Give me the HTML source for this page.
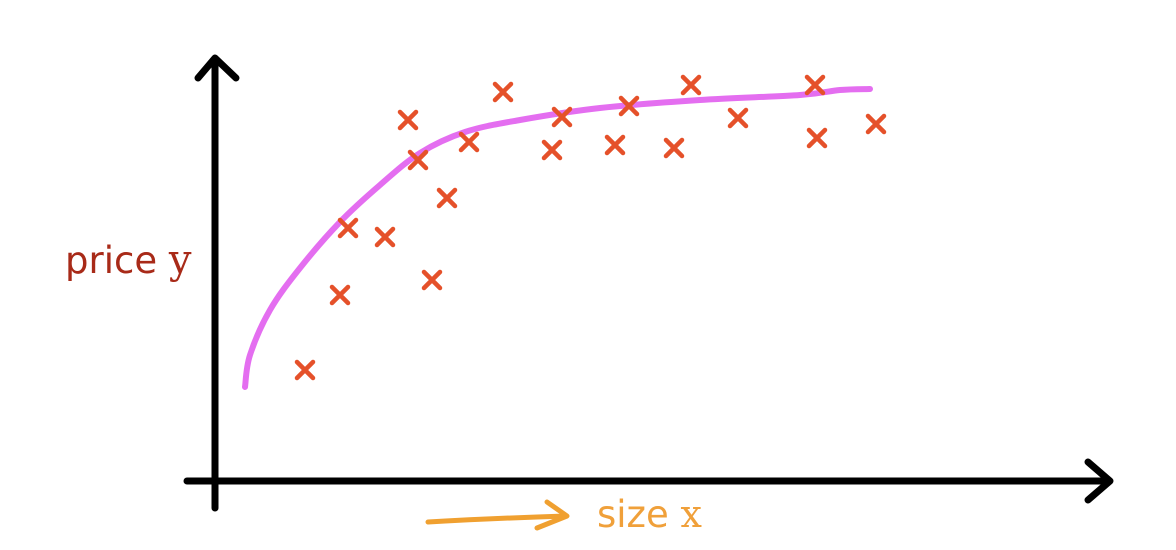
<!DOCTYPE html>
<html><head><meta charset="utf-8"><style>
html,body{margin:0;padding:0;background:#fff;}
svg{display:block;}
</style></head><body>
<svg id="chart" width="1176" height="550" viewBox="0 0 1176 550">
  <g>
    <line x1="215" y1="508" x2="215" y2="60" stroke="#000" stroke-width="7" stroke-linecap="round"/>
    <polyline points="198,78 215,58 236,78" fill="none" stroke="#000" stroke-width="7" stroke-linecap="round" stroke-linejoin="round"/>
  </g>
  <g>
    <line x1="187" y1="481" x2="1108" y2="481" stroke="#000" stroke-width="7" stroke-linecap="round"/>
    <polyline points="1088,462 1110,481 1088,500" fill="none" stroke="#000" stroke-width="7" stroke-linecap="round" stroke-linejoin="round"/>
  </g>
  <text x="65" y="273" font-family="DejaVu Sans, sans-serif" font-size="37" fill="#a82a18">price <tspan font-family="DejaVu Serif, serif" font-size="40">y</tspan></text>
  <text x="597" y="527" font-family="DejaVu Sans, sans-serif" font-size="37" fill="#f0a03a">size <tspan font-family="DejaVu Serif, serif" font-size="38">x</tspan></text>
  <g fill="none" stroke="#f0a030" stroke-width="5" stroke-linecap="round" stroke-linejoin="round">
    <path d="M428,522 Q500,518 566,516"/>
    <path d="M547,502 L567,516 L537,528"/>
  </g>
  <path id="curve" fill="none" stroke="#e46ef0" stroke-width="6" stroke-linecap="round" stroke-linejoin="round"/>
  <g id="points"></g>
</svg>
<script>
const sizeX = [90,125,133,170,193,203,217,232,254,288,337,347,400,414,459,476,523,600,602,661];
const priceY = [27.75,46.5,63.25,61,90.25,80.25,50.25,70.75,84.75,97.25,82.75,91,84,93.75,83.25,99,90.75,99,85.75,89.25];
const curveX = [30,35,55,85,125,165,205,250,305,385,485,585,625,655];
const curveY = [23.5,31.5,42.75,53.25,64.75,74,82,87.25,90.25,93.25,95.25,96.5,97.75,98];

function sx(v){ return 215 + v; }
function sy(v){ return 481 - v*4; }

const ns = 'http://www.w3.org/2000/svg';
const cp = curveX.map((x,i)=>[sx(x),sy(curveY[i])]);
let d = 'M'+cp[0][0]+','+cp[0][1];
for(let i=1;i<cp.length;i++){
  const p0=cp[Math.max(0,i-2)],p1=cp[i-1],p2=cp[i],p3=cp[Math.min(cp.length-1,i+1)];
  const c1x=p1[0]+(p2[0]-p0[0])/6,c1y=p1[1]+(p2[1]-p0[1])/6;
  const c2x=p2[0]-(p3[0]-p1[0])/6,c2y=p2[1]-(p3[1]-p1[1])/6;
  d+=' C'+c1x+','+c1y+' '+c2x+','+c2y+' '+p2[0]+','+p2[1];
}
document.getElementById('curve').setAttribute('d', d);

const g = document.getElementById('points');
sizeX.forEach((x,i)=>{
  const cx=sx(x), cy=sy(priceY[i]), r=8;
  const p=document.createElementNS(ns,'path');
  p.setAttribute('d','M'+(cx-r)+','+(cy-r)+' L'+(cx+r)+','+(cy+r)+' M'+(cx+r)+','+(cy-r)+' L'+(cx-r)+','+(cy+r));
  p.setAttribute('stroke','#e5512a');
  p.setAttribute('stroke-width','4.5');
  p.setAttribute('stroke-linecap','round');
  
  
  g.appendChild(p);
});
</script>
</body></html>
